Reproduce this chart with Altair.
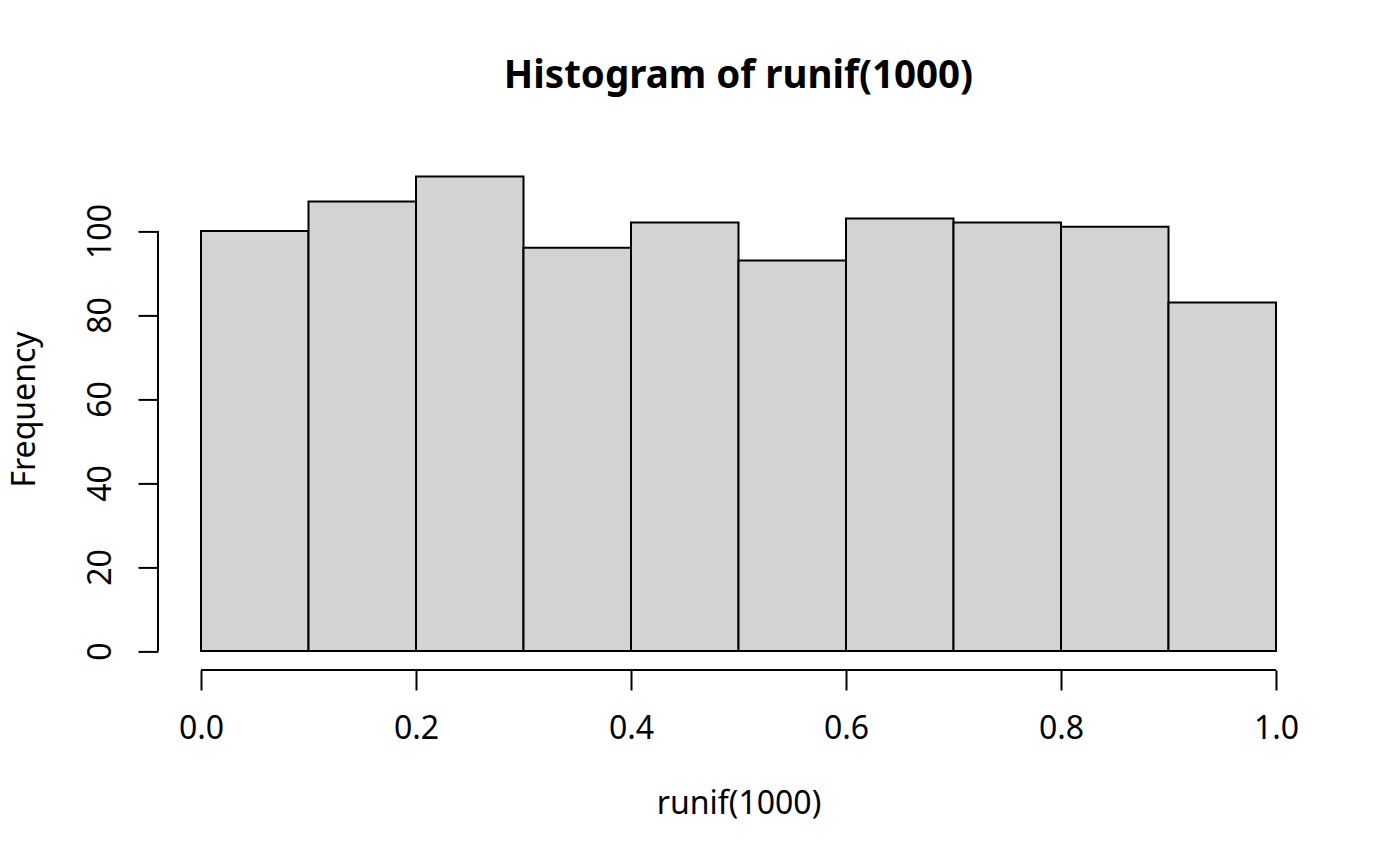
import altair as alt
import pandas as pd

# Histogram data
bin_start = [0.0, 0.1, 0.2, 0.3, 0.4, 0.5, 0.6, 0.7, 0.8, 0.9]
bin_end = [0.1, 0.2, 0.3, 0.4, 0.5, 0.6, 0.7, 0.8, 0.9, 1.0]
counts = [100, 107, 113, 96, 102, 93, 103, 102, 101, 83]

x_ticks = [0.0, 0.2, 0.4, 0.6, 0.8, 1.0]
y_ticks = [0, 20, 40, 60, 80, 100]

title_text = "Histogram of runif(1000)"
x_title = "runif(1000)"
y_title = "Frequency"

df = pd.DataFrame({"start": bin_start, "end": bin_end, "count": counts})
xaxis_df = pd.DataFrame({"a": [x_ticks[0]], "b": [x_ticks[-1]]})
yaxis_df = pd.DataFrame({"a": [y_ticks[0]], "b": [y_ticks[-1]]})

FONT = "Noto Sans"
W = 1161
H = 512.6

xmin, xmax = 0.0, 1.0
xpad = (xmax - xmin) * 0.04
ymax = max(counts)
ypad = ymax * 0.04

xscale = alt.Scale(domain=[xmin - xpad, xmax + xpad], nice=False, zero=False)
yscale = alt.Scale(domain=[-ypad, ymax + ypad], nice=False, zero=False)

xaxis = alt.Axis(
    values=x_ticks, format=".1f", domain=False, grid=False,
    tickSize=20, tickWidth=2, tickColor="black",
    labelFont=FONT, labelFontSize=32, labelColor="black",
    labelPadding=48, labelBaseline="alphabetic", labelAlign="center",
    labelFlush=False, labelOverlap=False,
    title=x_title, titleFont=FONT, titleFontSize=32, titleFontWeight="normal",
    titleColor="black", titleX=W / 2, titleY=143.3,
    titleBaseline="alphabetic", titleAlign="center",
)
yaxis = alt.Axis(
    values=y_ticks, format="d", domain=False, grid=False,
    tickSize=20, tickWidth=2, tickColor="black",
    labelFont=FONT, labelFontSize=32, labelColor="black",
    labelAngle=270, labelPadding=28, labelBaseline="alphabetic",
    labelAlign="center", labelFlush=False, labelOverlap=False,
    title=y_title, titleFont=FONT, titleFontSize=32, titleFontWeight="normal",
    titleColor="black", titleAngle=270, titleX=-123.5, titleY=251.6,
    titleBaseline="alphabetic", titleAlign="center",
)

bars = alt.Chart(df).mark_rect(
    fill="#D3D3D3", stroke="black", strokeWidth=2
).encode(
    x=alt.X("start:Q", scale=xscale, axis=xaxis),
    x2="end:Q",
    y=alt.Y("count:Q", scale=yscale, axis=yaxis),
    y2=alt.datum(0),
)

xline = alt.Chart(xaxis_df).mark_rule(color="black", strokeWidth=2).encode(
    x=alt.X("a:Q", scale=xscale),
    x2="b:Q",
    y=alt.value(H),
)

yline = alt.Chart(yaxis_df).mark_rule(color="black", strokeWidth=2).encode(
    y=alt.Y("a:Q", scale=yscale),
    y2="b:Q",
    x=alt.value(0),
)

chart = alt.layer(bars, xline, yline).properties(
    width=W,
    height=H,
    background="white",
    title=alt.TitleParams(
        text=title_text, font=FONT, fontSize=38.5, fontWeight="bold",
        color="black", anchor="middle", frame="group",
        baseline="alphabetic", offset=31,
    ),
    autosize=alt.AutoSizeParams(type="none"),
    padding={"left": 150, "top": 149.4, "right": 73, "bottom": 188},
).configure_view(stroke="transparent", strokeWidth=0)

chart.save("out.html", embed_options={"renderer": "svg", "actions": False})
